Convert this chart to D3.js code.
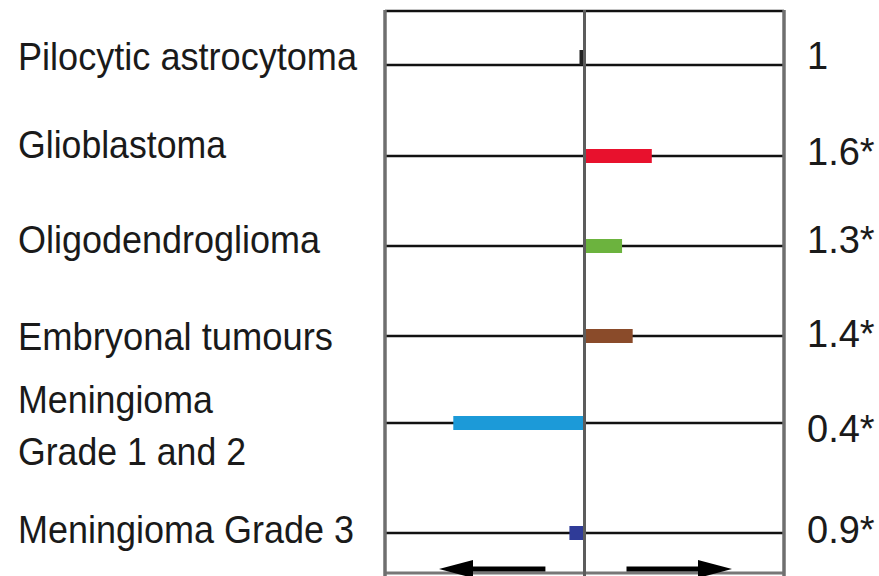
<!DOCTYPE html>
<html>
<head>
<meta charset="utf-8">
<script src="https://cdn.jsdelivr.net/npm/d3@7"></script>
<style>
  html, body { margin: 0; padding: 0; background: #fff; }
  svg { display: block; }
</style>
</head>
<body>
<svg id="chart" width="879" height="576"></svg>
<script>
// Tumour types and their ratios (reference value = 1)
const categories = [
  "Pilocytic astrocytoma",
  "Glioblastoma",
  "Oligodendroglioma",
  "Embryonal tumours",
  "Meningioma Grade 1 and 2",
  "Meningioma Grade 3"
];
const ratios = [1, 1.6, 1.3, 1.4, 0.4, 0.9];
const ratioLabels = ["1", "1.6*", "1.3*", "1.4*", "0.4*", "0.9*"];
const labelLines = [
  ["Pilocytic astrocytoma"],
  ["Glioblastoma"],
  ["Oligodendroglioma"],
  ["Embryonal tumours"],
  ["Meningioma", "Grade 1 and 2"],
  ["Meningioma Grade 3"]
];
const barColors = ["#222222", "#e8112d", "#6cb33e", "#8a4b2a", "#1c9ad8", "#2f3b98"];

// Layout
const W = 879, H = 576;
const box = { left: 385, right: 784, top: 11, bottom: 573 };
const rowLines = [65, 156, 246, 336, 423, 533];
const labelBaselines = [[70], [158], [253], [350], [413, 465], [543]];
const valueBaselines = [69, 165, 253, 347, 442, 543];
const labelWidths = [[339], [208], [302], [315], [195, 228], [336]];
const fontFamily = "'Liberation Sans Narrow', 'Arial Narrow', 'Liberation Sans', Arial, sans-serif";

const svg = d3.select("#chart");

const x = d3.scaleLog().domain([0.25, 4]).range([box.left + 1, box.right - 1]);
const y = d3.scaleOrdinal().domain(categories).range(rowLines);

const rows = categories.map((c, i) => ({
  cat: c, v: ratios[i], label: ratioLabels[i], lines: labelLines[i],
  color: barColors[i], base: labelBaselines[i], vb: valueBaselines[i], lw: labelWidths[i]
}));

// Horizontal row lines
svg.append("g").selectAll("line").data(rows).join("line")
  .attr("x1", box.left).attr("x2", box.right)
  .attr("y1", d => y(d.cat)).attr("y2", d => y(d.cat))
  .attr("stroke", "#111").attr("stroke-width", 2.5);

// Frame
svg.append("line").attr("x1", box.left).attr("x2", box.right)
  .attr("y1", box.top).attr("y2", box.top).attr("stroke", "#111").attr("stroke-width", 2.5);
svg.append("line").attr("x1", box.left).attr("x2", box.right)
  .attr("y1", box.bottom).attr("y2", box.bottom).attr("stroke", "#777").attr("stroke-width", 3);
[box.left, box.right].forEach(xx => {
  svg.append("line").attr("x1", xx).attr("x2", xx)
    .attr("y1", box.top - 1).attr("y2", H)
    .attr("stroke", "#6f6f6f").attr("stroke-width", 3.5);
});

// Bars from the reference line (ratio = 1)
const barH = 14;
svg.append("g").selectAll("rect").data(rows.filter(d => d.v !== 1)).join("rect")
  .attr("x", d => Math.min(x(1), x(d.v)))
  .attr("width", d => Math.abs(x(d.v) - x(1)))
  .attr("y", d => y(d.cat) - barH / 2)
  .attr("height", barH)
  .attr("fill", d => d.color);

// Reference category marker
svg.append("g").selectAll("rect").data(rows.filter(d => d.v === 1)).join("rect")
  .attr("x", d => x(d.v) - 5)
  .attr("width", 4)
  .attr("y", d => y(d.cat) - 15)
  .attr("height", 15)
  .attr("fill", d => d.color);

// Reference vertical line at ratio 1
svg.append("line").attr("x1", x(1)).attr("x2", x(1))
  .attr("y1", box.top - 1).attr("y2", H)
  .attr("stroke", "#5c5c5c").attr("stroke-width", 3);

// Direction arrows along the bottom
const arrowY = 569;
function arrow(x0, x1) {
  const dir = Math.sign(x1 - x0);
  const headLen = 34, headHalf = 9;
  svg.append("line").attr("x1", x0).attr("x2", x1 - dir * headLen)
    .attr("y1", arrowY).attr("y2", arrowY)
    .attr("stroke", "#000").attr("stroke-width", 5);
  svg.append("path")
    .attr("d", `M${x1},${arrowY} L${x1 - dir * headLen},${arrowY - headHalf} L${x1 - dir * headLen},${arrowY + headHalf} Z`)
    .attr("fill", "#000");
}
arrow(x(0.9) - 24, x(0.25) + 53);
arrow(x(1) + 42, x(4) - 51);

// Category labels
const lab = svg.append("g").attr("font-family", fontFamily).attr("font-size", 39).attr("fill", "#1a1a1a");
rows.forEach(d => {
  d.lines.forEach((t, j) => {
    lab.append("text")
      .attr("x", 18).attr("y", d.base[j])
      .attr("textLength", d.lw[j]).attr("lengthAdjust", "spacingAndGlyphs")
      .text(t);
  });
});

// Ratio values
svg.append("g").attr("font-family", "'Liberation Sans', Arial, sans-serif")
  .attr("font-size", 38).attr("fill", "#1a1a1a")
  .selectAll("text").data(rows).join("text")
  .attr("x", 807).attr("y", d => d.vb)
  .text(d => d.label);
</script>
</body>
</html>
